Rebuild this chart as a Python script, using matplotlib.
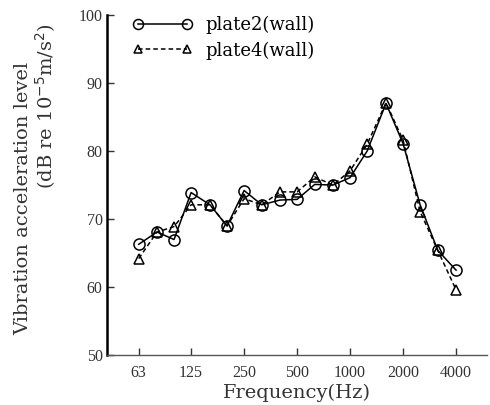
import numpy as np
import matplotlib
matplotlib.use("Agg")
import matplotlib.pyplot as plt

# 1/3-octave band centre frequencies (Hz)
freqs = [63, 80, 100, 125, 160, 200, 250, 315, 400, 500, 630, 800,
         1000, 1250, 1600, 2000, 2500, 3150, 4000]
# vibration acceleration level (dB re 1e-5 m/s^2)
plate2 = [66.3, 68.1, 67.0, 73.9, 72.1, 69.0, 74.2, 72.1, 72.8, 72.9, 75.1, 75.0,
          76.1, 80.0, 87.0, 81.1, 72.1, 65.4, 62.5]
plate4 = [64.2, 68.1, 68.9, 72.1, 72.1, 69.0, 73.0, 72.1, 74.0, 74.0, 76.2, 75.0,
          77.1, 81.0, 87.1, 81.6, 71.1, 65.4, 59.6]
tick_freqs = [63, 125, 250, 500, 1000, 2000, 4000]
tick_labels = ["63", "125", "250", "500", "1000", "2000", "4000"]

plt.rcParams['font.family'] = ['Liberation Serif', 'DejaVu Serif']
label_font = ['DejaVu Serif']
ink = '#333333'

fig = plt.figure(figsize=(4.9, 4.05), dpi=100)
ax = fig.add_axes([0.218, 0.123, 0.776, 0.840])

ax.plot(freqs, plate2, '-', color='black', lw=1.1, marker='o', ms=8,
        mfc='none', mec='black', mew=1.1, label='plate2(wall)')
ax.plot(freqs, plate4, '--', color='black', lw=1.1, marker='^', ms=7,
        mfc='none', mec='black', mew=1.1, dashes=(3, 2), label='plate4(wall)')

ax.set_xscale('log', base=2)
ax.set_xlim(41.5, 6000)
ax.set_ylim(50, 100)
ax.set_xticks(tick_freqs)
ax.set_xticklabels(tick_labels)
ax.minorticks_off()
ax.set_yticks([50, 60, 70, 80, 90, 100])

for side in ('top', 'right'):
    ax.spines[side].set_visible(False)
ax.spines['left'].set_linewidth(1.8)
ax.spines['bottom'].set_linewidth(1.0)
ax.spines['bottom'].set_color('#555555')
ax.tick_params(direction='in', length=5, width=1, labelsize=11.5, colors=ink)
ax.tick_params(axis='y', pad=3)
ax.tick_params(axis='x', pad=7)

ax.set_xlabel('Frequency(Hz)', fontsize=14, color=ink, labelpad=2,
              family=label_font)

fig.text(0.047, 0.51, 'Vibration acceleration level', rotation=90,
         ha='center', va='center', fontsize=14, color=ink, family=label_font)
fig.text(0.094, 0.738, '(dB re 10$^{-5}$m/s$^{2}$)', rotation=90,
         ha='center', va='center', fontsize=14, color=ink, family=label_font)

ax.legend(loc='upper left', bbox_to_anchor=(0.025, 1.045), frameon=False,
          numpoints=2, handlelength=3.3, handletextpad=0.75, labelspacing=0.4,
          markerscale=0.9, prop={'family': label_font, 'size': 13})

fig.savefig('out.png', dpi=100)
